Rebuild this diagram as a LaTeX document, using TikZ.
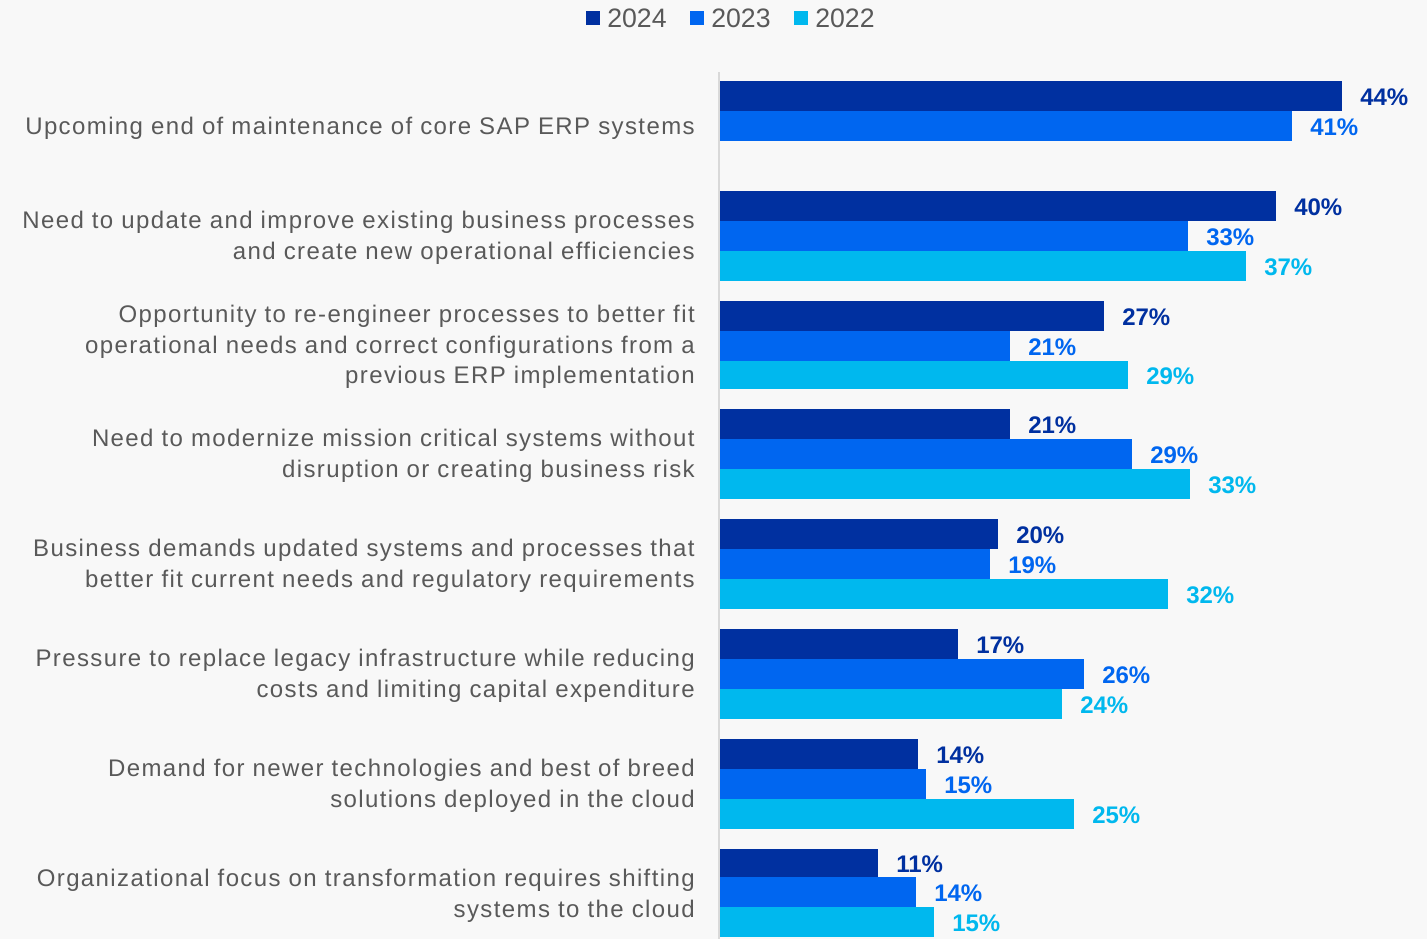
\documentclass[tikz,border=0pt]{standalone}
\usepackage{fontspec}
\setmainfont{Liberation Sans}
\newfontfamily\labfont[LetterSpace=5.8]{Liberation Sans}
\definecolor{cA}{HTML}{0030A0}
\definecolor{cB}{HTML}{0066F0}
\definecolor{cC}{HTML}{00B8EE}
\definecolor{txt}{HTML}{595959}
\definecolor{bgc}{HTML}{F8F8F8}
\definecolor{axc}{HTML}{D9D9D9}
\newcommand\onebar[6]{%
  \fill[#5] (720,#2) rectangle (#4,#3);
  \node[val,text=#5,anchor=west] (#1) at (#4+18,{(#2+#3)/2+1}) {#6\%};}
\newcommand\grplabel[3]{%
  \node[lab,anchor=east] (#1) at (695,#2+47) {#3};}
\begin{document}
\begin{tikzpicture}[x=0.75pt,y=-0.75pt,
  val/.style={inner sep=0pt,font=\bfseries\fontsize{18}{21}\selectfont},
  lab/.style={inner sep=0pt,align=right,text=txt,font=\labfont\fontsize{18}{22.9}\selectfont},
  leg/.style={inner sep=0pt,anchor=west,text=txt,font=\fontsize{20}{24}\selectfont}]
\fill[bgc] (0,0) rectangle (1427,939);
\useasboundingbox (0,0) rectangle (1427,939);
% legend
\fill[cA] (586,11) rectangle (600,25);
\node[leg] (l24) at (607,18) {2024};
\fill[cB] (690,11) rectangle (704,25);
\node[leg] (l23) at (711,18) {2023};
\fill[cC] (794,11) rectangle (808,25);
\node[leg] (l22) at (815,18) {2022};
% axis
\draw[axc,line width=1.5pt] (719,72) -- (719,939);
% group 1
\onebar{a1}{81}{111}{1342}{cA}{44}
\onebar{b1}{111}{141}{1292}{cB}{41}
\grplabel{g1}{81}{Upcoming end of maintenance of core SAP ERP systems}
% group 2
\onebar{a2}{191}{221}{1276}{cA}{40}
\onebar{b2}{221}{251}{1188}{cB}{33}
\onebar{c2}{251}{281}{1246}{cC}{37}
\grplabel{g2}{191}{Need to update and improve existing business processes\\and create new operational efficiencies}
% group 3
\onebar{a3}{301}{331}{1104}{cA}{27}
\onebar{b3}{331}{361}{1010}{cB}{21}
\onebar{c3}{361}{389}{1128}{cC}{29}
\grplabel{g3}{300}{Opportunity to re-engineer processes to better fit\\operational needs and correct configurations from a\\previous ERP implementation}
% group 4
\onebar{a4}{409}{439}{1010}{cA}{21}
\onebar{b4}{439}{469}{1132}{cB}{29}
\onebar{c4}{469}{499}{1190}{cC}{33}
\grplabel{g4}{409}{Need to modernize mission critical systems without\\disruption or creating business risk}
% group 5
\onebar{a5}{519}{549}{998}{cA}{20}
\onebar{b5}{549}{579}{990}{cB}{19}
\onebar{c5}{579}{609}{1168}{cC}{32}
\grplabel{g5}{519}{Business demands updated systems and processes that\\better fit current needs and regulatory requirements}
% group 6
\onebar{a6}{629}{659}{958}{cA}{17}
\onebar{b6}{659}{689}{1084}{cB}{26}
\onebar{c6}{689}{719}{1062}{cC}{24}
\grplabel{g6}{629}{Pressure to replace legacy infrastructure while reducing\\costs and limiting capital expenditure}
% group 7
\onebar{a7}{739}{769}{918}{cA}{14}
\onebar{b7}{769}{799}{926}{cB}{15}
\onebar{c7}{799}{829}{1074}{cC}{25}
\grplabel{g7}{739}{Demand for newer technologies and best of breed\\solutions deployed in the cloud}
% group 8
\onebar{a8}{849}{877}{878}{cA}{11}
\onebar{b8}{877}{907}{916}{cB}{14}
\onebar{c8}{907}{937}{934}{cC}{15}
\grplabel{g8}{849}{Organizational focus on transformation requires shifting\\systems to the cloud}
\end{tikzpicture}
\end{document}
